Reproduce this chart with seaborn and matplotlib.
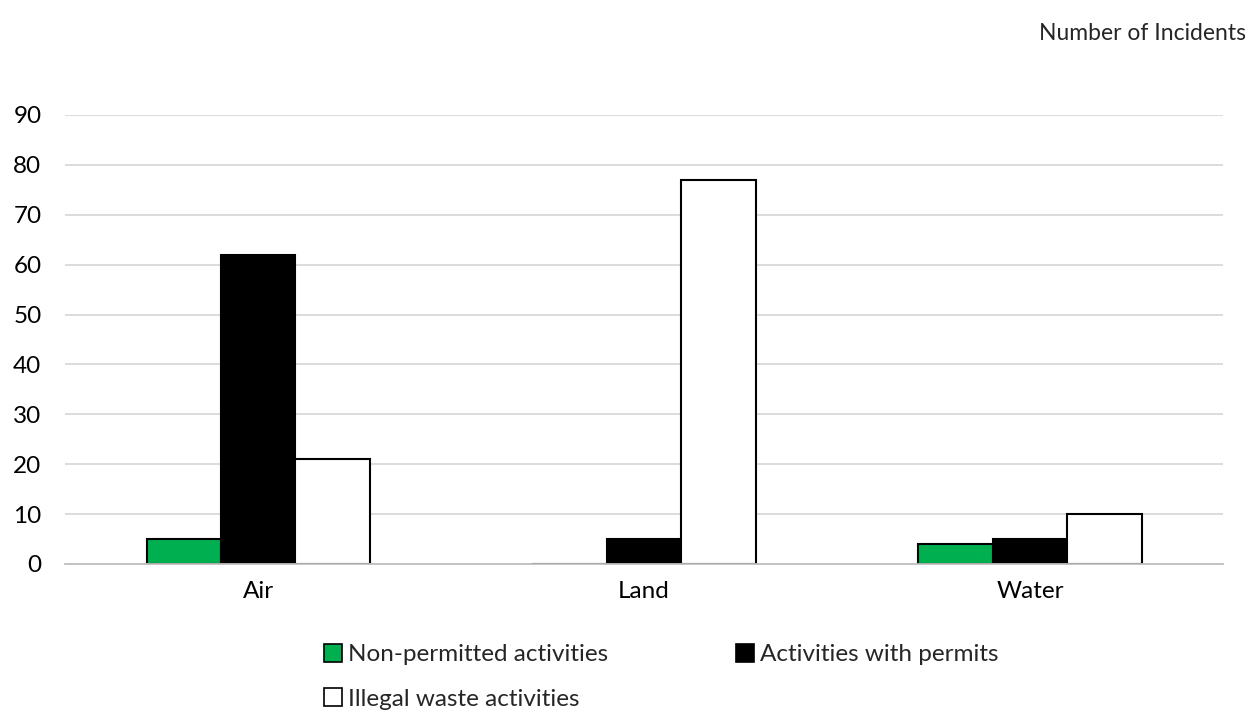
import matplotlib
matplotlib.use("Agg")
import matplotlib.pyplot as plt
import seaborn as sns
import pandas as pd
from matplotlib.patches import Patch

categories = ["Air", "Land", "Water"]
series_names = ["Non-permitted activities", "Activities with permits", "Illegal waste activities"]
non_permitted = [5, 0, 4]
with_permits = [62, 5, 5]
illegal_waste = [21, 77, 10]
title = "Number of Incidents"

colors = ["#00B050", "#000000", "#FFFFFF"]

rows = []
for name, vals in zip(series_names, [non_permitted, with_permits, illegal_waste]):
    for c, v in zip(categories, vals):
        rows.append({"Medium": c, "Series": name, "Value": v})
df = pd.DataFrame(rows)

sns.set_theme(style="white")
plt.rcParams['font.family'] = ['Lato', 'DejaVu Sans']

fig = plt.figure(figsize=(12.56, 7.15), dpi=100)
ax = fig.add_axes([0.0518, 0.2112, 0.9219, 0.628])

sns.barplot(data=df, x="Medium", y="Value", hue="Series", hue_order=series_names,
            order=categories, palette=colors, width=0.578, ax=ax,
            edgecolor="black", linewidth=1.5, legend=False, saturation=1)

ax.set_ylim(0, 90)
ax.set_yticks(range(0, 91, 10))
ax.set_xlim(-0.5, 2.5)
ax.yaxis.grid(True, color="#d9d9d9", linewidth=1.3)
ax.set_axisbelow(True)
for s in ["top", "right", "left"]:
    ax.spines[s].set_visible(False)
ax.spines["bottom"].set_color("#bfbfbf")
ax.spines["bottom"].set_linewidth(1.3)
ax.tick_params(axis="both", length=0, labelsize=17.5, colors="#000000")
ax.tick_params(axis="x", pad=12)
ax.tick_params(axis="y", pad=17)
ax.set_xlabel("")
ax.set_ylabel("")

fig.text(0.992, 0.953, title, ha="right", va="center", fontsize=16.5)

h = [Patch(facecolor=c, edgecolor="black", linewidth=1.2) for c in colors]
handles = [h[0], h[2], h[1]]
labels = [series_names[0], series_names[2], series_names[1]]
fig.legend(handles, labels, loc="upper left", bbox_to_anchor=(0.2576, 0.0996),
           ncol=2, frameon=False, fontsize=17.5, handlelength=0.75, handleheight=0.75,
           handletextpad=0.25, columnspacing=5.25, labelspacing=0.95, borderaxespad=0,
           borderpad=0)

fig.savefig("out.png", dpi=100)
